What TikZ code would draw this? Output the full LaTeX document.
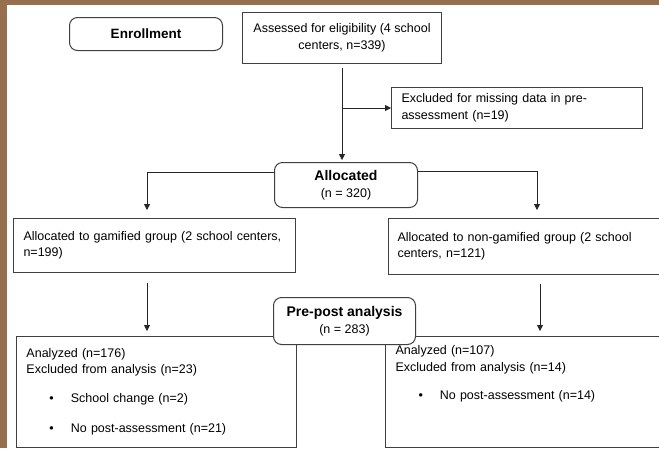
\documentclass[tikz,border=0pt]{standalone}
\usepackage{fontspec}
\setmainfont{Liberation Sans}
\usepackage{tikz}
\usetikzlibrary{arrows.meta}

\definecolor{wood}{RGB}{150,112,78}

\tikzset{
  box/.style={draw=black!75, line width=1pt, fill=white, inner ysep=0pt,
    font=\fontsize{12.5}{16.5}\selectfont},
  stagebox/.style={box, rounded corners=8pt, align=center, inner xsep=0pt},
  flow/.style={-{Triangle[length=6pt,width=6pt]}, line width=0.8pt, draw=black!85}
}
\newcommand{\bulletitem}[1]{\hspace*{23pt}\textbullet\hspace{17pt}#1}

\begin{document}
\begin{tikzpicture}[x=1pt,y=-1pt]
  \useasboundingbox (0,0) rectangle (659,448);
  \clip (0,0) rectangle (659,448);
  \fill[wood] (0,0) rectangle (659,448);
  \fill[white] (7,5) rectangle (659,448);

  % top row
  \node[stagebox, anchor=north west, minimum width=153pt, minimum height=33pt] (enrol) at (69,17)
    {\textbf{\fontsize{13.5}{16}\selectfont Enrollment}};
  \node[box, anchor=north west, minimum width=199pt, minimum height=51pt, align=center] (assess) at (242,12)
    {Assessed for eligibility (4 school\\centers, n=339)};
  \node[box, anchor=north west, minimum width=251pt, minimum height=41pt, text width=231pt, inner xsep=10pt, align=left] (excl) at (391,87)
    {Excluded for missing data in pre-\\assessment (n=19)};
  \node[stagebox, anchor=north west, minimum width=143pt, minimum height=45pt] (alloc) at (274,162)
    {{\fontsize{14}{17}\selectfont\bfseries Allocated}\\(n = 320)};

  % groups
  \node[box, anchor=north west, minimum width=282pt, minimum height=54pt, text width=262pt, inner xsep=10pt, align=left] (gam) at (13,218)
    {Allocated to gamified group (2 school centers,\\n=199)};
  \node[box, anchor=north west, minimum width=282pt, minimum height=56pt, text width=264pt, inner xsep=9pt, align=left] (ngam) at (388,218)
    {Allocated to non-gamified group (2 school\\centers, n=121)};

  % results
  \node[box, anchor=north west, minimum width=280pt, minimum height=111pt, text width=260pt, inner xsep=10pt, align=left] (lres) at (16,336)
    {Analyzed (n=176)\\Excluded from analysis (n=23)\\[12pt]
     \bulletitem{School change (n=2)}\\[14pt]
     \bulletitem{No post-assessment (n=21)}};
  \node[box, anchor=north west, minimum width=285pt, minimum height=111pt, text width=265pt, inner xsep=10pt, align=left] (rres) at (385,336)
    {Analyzed (n=107)\\Excluded from analysis (n=14)\\[12pt]
     \bulletitem{No post-assessment (n=14)}\\[22pt]\mbox{}};
  \node[stagebox, anchor=north west, minimum width=142pt, minimum height=47pt] (prepost) at (273,297)
    {{\fontsize{14}{17}\selectfont\bfseries Pre-post analysis}\\(n = 283)};

  \coordinate (lcol) at (147,0);
  \coordinate (rcol) at (537,0);

  \draw[flow, shorten <=4pt, shorten >=2pt] (assess) -- (assess |- alloc.north);
  \draw[flow] (assess |- excl.west) -- (excl.west);
  \draw[flow, shorten >=8pt] ([yshift=13pt]alloc.west) -| (lcol |- gam.north);
  \draw[flow, shorten >=8pt] ([yshift=14pt]alloc.east) -| (rcol |- ngam.north);
  \draw[flow, shorten <=10pt, shorten >=5pt] (lcol |- gam.south) -- (lcol |- lres.north);
  \draw[flow, shorten <=9pt, shorten >=5pt] ([xshift=3pt]rcol |- ngam.south) -- ([xshift=3pt]rcol |- rres.north);
\end{tikzpicture}
\end{document}
